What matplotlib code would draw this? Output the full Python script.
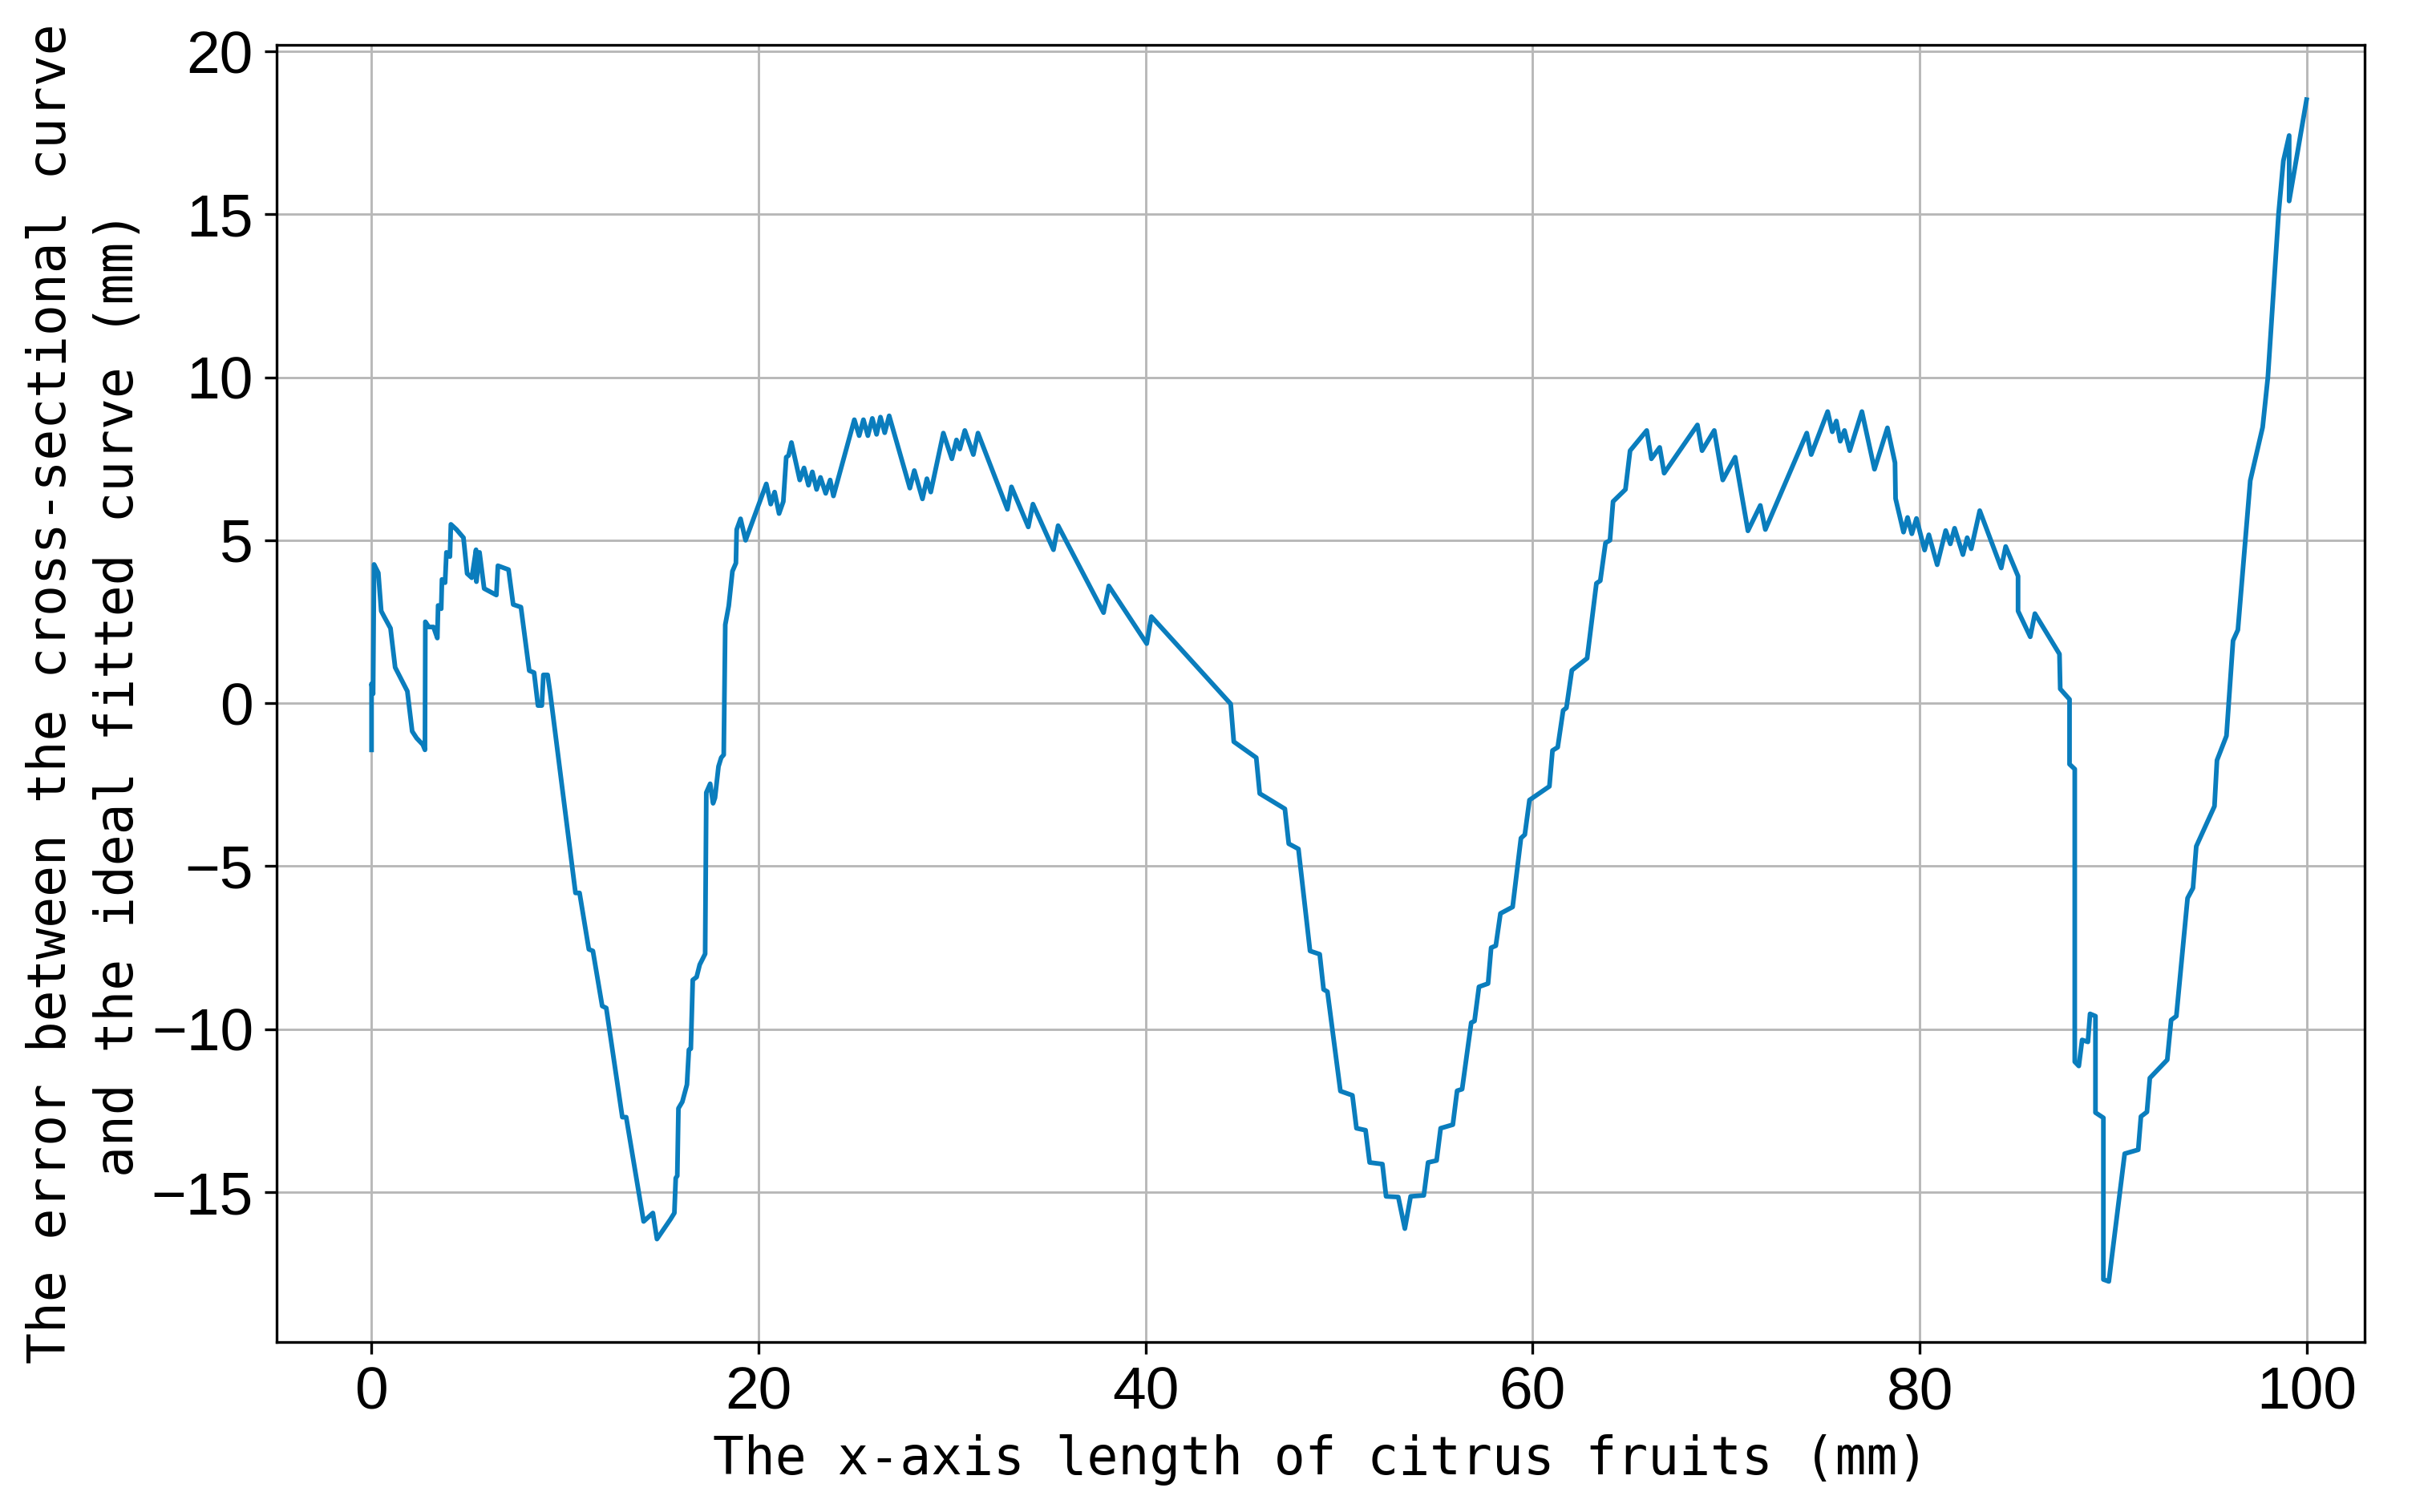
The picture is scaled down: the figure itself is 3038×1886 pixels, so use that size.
import matplotlib
matplotlib.use("Agg")
import matplotlib.pyplot as plt

# x position along the fruit (mm) and the error to the fitted curve (mm)
x_mm = [
    0.0, 0.0, 0.08, 0.13, 0.35, 0.5, 0.65, 0.98, 1.22, 1.85, 2.1, 2.33, 2.65, 2.76,
    2.78, 2.96, 3.2, 3.4, 3.44, 3.6, 3.64, 3.8, 3.87, 4.05, 4.1, 4.39, 4.75, 4.94,
    5.18, 5.4, 5.42, 5.58, 5.82, 6.45, 6.53, 7.08, 7.32, 7.72, 8.15, 8.4, 8.6, 8.8,
    8.88, 9.1, 9.23, 10.54, 10.75, 11.23, 11.44, 11.92, 12.13, 12.96, 13.16, 14.06,
    14.54, 14.75, 15.44, 15.65, 15.72, 15.8, 15.86, 16.06, 16.3, 16.4, 16.5, 16.6,
    16.8, 16.96, 17.24, 17.3, 17.5, 17.65, 17.75, 17.93, 18.07, 18.2, 18.28, 18.46,
    18.65, 18.83, 18.87, 19.07, 19.33, 20.4, 20.63, 20.83, 21.06, 21.28, 21.43, 21.55,
    21.7, 22.13, 22.35, 22.58, 22.78, 23.0, 23.2, 23.47, 23.7, 23.87, 24.95, 25.2,
    25.42, 25.65, 25.88, 26.1, 26.3, 26.52, 26.75, 27.82, 28.05, 28.47, 28.7, 28.9,
    29.55, 29.99, 30.23, 30.4, 30.66, 31.1, 31.34, 32.86, 33.07, 33.94, 34.18, 35.24,
    35.48, 37.83, 38.1, 40.06, 40.3, 44.4, 44.56, 45.72, 45.9, 47.2, 47.4, 47.9,
    48.5, 49.0, 49.2, 49.4, 50.07, 50.69, 50.9, 51.37, 51.58, 52.24, 52.43, 53.06,
    53.4, 53.7, 54.38, 54.6, 55.04, 55.25, 55.88, 56.1, 56.36, 56.83, 57.0, 57.23,
    57.7, 57.86, 58.1, 58.34, 58.97, 59.4, 59.6, 59.84, 60.87, 61.03, 61.3, 61.58,
    61.75, 62.03, 62.82, 63.3, 63.5, 63.77, 64.0, 64.16, 64.8, 65.04, 65.9, 66.14,
    66.57, 66.8, 68.52, 68.76, 69.39, 69.83, 70.47, 71.13, 71.77, 72.03, 74.17, 74.4,
    75.25, 75.49, 75.7, 75.9, 76.12, 76.39, 77.02, 77.67, 78.34, 78.73, 78.76, 79.17,
    79.38, 79.6, 79.84, 80.26, 80.48, 80.91, 81.35, 81.59, 81.81, 82.24, 82.46, 82.67,
    83.11, 84.22, 84.45, 85.09, 85.09, 85.72, 85.96, 87.23, 87.27, 87.75, 87.75, 88.02,
    88.02, 88.23, 88.4, 88.7, 88.81, 89.09, 89.09, 89.5, 89.5, 89.78, 90.6, 91.3,
    91.44, 91.75, 91.9, 92.8, 93.0, 93.27, 93.85, 94.13, 94.3, 95.24, 95.37, 95.86,
    96.2, 96.45, 97.09, 97.73, 98.0, 98.55, 98.8, 99.1, 99.1, 100.0,
]
error_mm = [
    -1.43, 0.6, 0.29, 4.26, 4.0, 2.83, 2.66, 2.3, 1.1, 0.37, -0.86, -1.07, -1.27, -1.43,
    2.5, 2.34, 2.34, 2.0, 3.0, 2.9, 3.8, 3.7, 4.63, 4.5, 5.49, 5.33, 5.08, 3.98,
    3.85, 4.71, 3.73, 4.63, 3.52, 3.32, 4.22, 4.1, 3.03, 2.95, 1.0, 0.94, -0.07, -0.07,
    0.87, 0.87, 0.33, -5.82, -5.82, -7.55, -7.6, -9.29, -9.35, -12.7, -12.7, -15.9,
    -15.64, -16.44, -15.84, -15.64, -14.57, -14.5, -12.43, -12.23, -11.7, -10.63, -10.6, -8.49,
    -8.4, -8.02, -7.69, -2.74, -2.47, -3.07, -2.9, -1.94, -1.67, -1.58, 2.41, 2.99,
    4.05, 4.3, 5.33, 5.66, 5.0, 6.73, 6.11, 6.48, 5.82, 6.19, 7.55, 7.6,
    8.0, 6.85, 7.22, 6.69, 7.1, 6.56, 6.93, 6.44, 6.85, 6.36, 8.7, 8.21,
    8.7, 8.21, 8.74, 8.25, 8.78, 8.3, 8.82, 6.6, 7.14, 6.27, 6.89, 6.48,
    8.29, 7.5, 8.08, 7.8, 8.37, 7.63, 8.29, 5.95, 6.64, 5.41, 6.11, 4.71,
    5.45, 2.78, 3.6, 1.83, 2.66, -0.02, -1.18, -1.67, -2.77, -3.24, -4.31, -4.47,
    -7.6, -7.7, -8.78, -8.85, -11.9, -12.03, -13.04, -13.1, -14.09, -14.14, -15.13, -15.15,
    -16.12, -15.13, -15.1, -14.09, -14.03, -13.04, -12.93, -11.89, -11.84, -9.8, -9.75, -8.7,
    -8.6, -7.5, -7.44, -6.45, -6.25, -4.14, -4.03, -2.97, -2.55, -1.45, -1.35, -0.22,
    -0.14, 1.01, 1.38, 3.68, 3.76, 4.92, 5.0, 6.19, 6.56, 7.75, 8.37, 7.5,
    7.85, 7.06, 8.54, 7.75, 8.37, 6.85, 7.55, 5.29, 6.07, 5.33, 8.29, 7.63,
    8.95, 8.33, 8.66, 8.04, 8.37, 7.75, 8.95, 7.18, 8.45, 7.38, 6.28, 5.25,
    5.7, 5.2, 5.67, 4.7, 5.17, 4.25, 5.3, 4.89, 5.37, 4.56, 5.08, 4.74,
    5.91, 4.15, 4.81, 3.9, 2.83, 2.04, 2.75, 1.51, 0.44, 0.12, -1.87, -2.02,
    -11.0, -11.13, -10.33, -10.39, -9.53, -9.6, -12.56, -12.72, -17.68, -17.74, -13.82, -13.7,
    -12.68, -12.54, -11.5, -10.94, -9.72, -9.6, -5.98, -5.67, -4.39, -3.16, -1.75, -1.0,
    1.92, 2.25, 6.83, 8.47, 10.0, 15.0, 16.64, 17.42, 15.41, 18.52,
]

x_ticks = [0, 20, 40, 60, 80, 100]
y_ticks = [-15, -10, -5, 0, 5, 10, 15, 20]

label_font = "DejaVu Sans Mono"
tick_font = "Liberation Sans"

fig = plt.figure(figsize=(3038 / 300, 1886 / 300), dpi=300)
ax = fig.add_axes([0.1136, 0.1124, 0.8571, 0.8579])

ax.plot(x_mm, error_mm, color="#0a7dbd", linewidth=1.4)

ax.set_xlim(-4.9, 103)
ax.set_ylim(-19.6, 20.2)
ax.set_xticks(x_ticks)
ax.set_yticks(y_ticks)
ax.grid(True, color="#b8b8b8", linewidth=0.7)
ax.set_axisbelow(True)

for lab in ax.get_xticklabels() + ax.get_yticklabels():
    lab.set_fontfamily(tick_font)
    lab.set_fontsize(18)

ax.set_xlabel("The x-axis length of citrus fruits (mm)",
              fontfamily=label_font, fontsize=15.5, labelpad=4)
ax.set_ylabel("The error between the cross-sectional curve\nand the ideal fitted curve (mm)",
              fontfamily=label_font, fontsize=15.5, linespacing=1.4, labelpad=2)

fig.savefig("out.png", dpi=300)
